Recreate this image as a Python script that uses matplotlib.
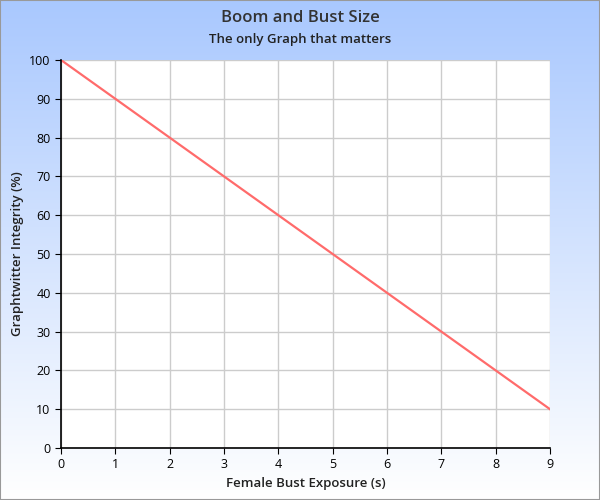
import matplotlib
matplotlib.use("Agg")
import matplotlib.pyplot as plt
import numpy as np

x_vals = [0, 1, 2, 3, 4, 5, 6, 7, 8, 9]
y_vals = [100, 90, 80, 70, 60, 50, 40, 30, 20, 10]

plt.rcParams['font.family'] = ['Open Sans', 'DejaVu Sans']
fig = plt.figure(figsize=(6, 5), dpi=100)
bg = fig.add_axes([0, 0, 1, 1], zorder=-10)
grad = np.linspace(0, 1, 256).reshape(-1, 1)
from matplotlib.colors import LinearSegmentedColormap
cmap = LinearSegmentedColormap.from_list("g", ["#a9c8fe", "#ffffff"])
bg.imshow(grad, aspect='auto', cmap=cmap, extent=[0, 1, 0, 1], origin='upper')
bg.set_axis_off()
fig.patches.append(plt.Rectangle((0, 0), 1, 1, transform=fig.transFigure, fill=False, edgecolor='#999999', lw=1.5))

ax = fig.add_axes([61/600, 52/500, 489/600, 388/500])
ax.set_facecolor('white')
ax.plot(x_vals, y_vals, color='#ff6b6b', lw=1.6)
ax.set_xlim(0, 9)
ax.set_ylim(0, 100)
ax.set_xticks(range(0, 10))
ax.set_yticks(range(0, 101, 10))
ax.grid(True, color='#cccccc', lw=1)
ax.set_axisbelow(True)
for s in ['top', 'right']:
    ax.spines[s].set_visible(False)
for s in ['left', 'bottom']:
    ax.spines[s].set_color('black')
    ax.spines[s].set_linewidth(1.2)
ax.tick_params(length=4, labelsize=9, color='black')
ax.set_xlabel('Female Bust Exposure (s)', fontsize=9.5, fontweight='semibold', color='#222222')
ax.set_ylabel('Graphtwitter Integrity (%)', fontsize=9.5, fontweight='semibold', color='#222222')
fig.text(0.5, 0.963, 'Boom and Bust Size', ha='center', va='center', fontsize=12, fontweight='semibold', color='#333333')
fig.text(0.5, 0.921, 'The only Graph that matters', ha='center', va='center', fontsize=9.5, fontweight='semibold', color='#222222')
fig.savefig('out.png', dpi=100)
